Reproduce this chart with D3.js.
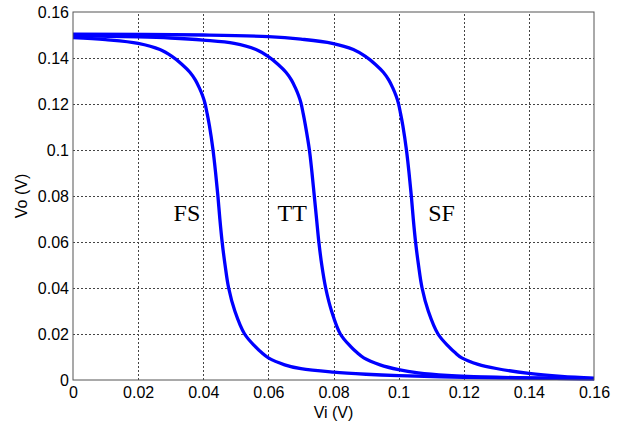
<!DOCTYPE html>
<html>
<head>
<meta charset="utf-8">
<script src="https://cdn.jsdelivr.net/npm/d3@7"></script>
<style>
  body { margin: 0; background: #fff; }
  .tick text { font-family: "Liberation Sans", Arial, sans-serif; font-size: 16px; fill: #000; }
  .grid line { stroke: #444; stroke-dasharray: 2,2; shape-rendering: crispEdges; }
  .grid path { display: none; }
</style>
</head>
<body>
<div id="chart"></div>
<script>
// Vi (V) vs Vo (V) for the three corners
var fsVi = [0, 0.01, 0.02, 0.0267, 0.0304, 0.0335, 0.0359, 0.0376, 0.0388, 0.0398, 0.0405, 0.0412, 0.0419, 0.0430, 0.0438, 0.0445, 0.0451, 0.0458, 0.0467, 0.0478, 0.0497, 0.0527, 0.056, 0.058, 0.06, 0.065, 0.07, 0.08, 0.09, 0.10, 0.12, 0.14, 0.16];
var fsVo = [0.1489, 0.1480, 0.1464, 0.1437, 0.1407, 0.1372, 0.1338, 0.1304, 0.1270, 0.1236, 0.1205, 0.1158, 0.1105, 0.100, 0.090, 0.080, 0.070, 0.060, 0.050, 0.040, 0.030, 0.020, 0.0145, 0.0118, 0.0096, 0.0066, 0.0049, 0.0034, 0.0025, 0.0019, 0.0012, 0.0008, 0.0005];

var ttVi = [0, 0.02, 0.03, 0.04, 0.0495, 0.0562, 0.0599, 0.0630, 0.0654, 0.0671, 0.0683, 0.0693, 0.0700, 0.0707, 0.0714, 0.0726, 0.0734, 0.0741, 0.0748, 0.0755, 0.0764, 0.0776, 0.0794, 0.0821, 0.0853, 0.0873, 0.0893, 0.0943, 0.10, 0.106, 0.115, 0.13, 0.16];
var ttVo = [0.1497, 0.1492, 0.1487, 0.1478, 0.1464, 0.1437, 0.1407, 0.1372, 0.1338, 0.1304, 0.1270, 0.1236, 0.1205, 0.1158, 0.1105, 0.100, 0.090, 0.080, 0.070, 0.060, 0.050, 0.040, 0.030, 0.020, 0.0145, 0.0118, 0.0096, 0.0066, 0.0045, 0.0031, 0.0020, 0.0012, 0.0006];

var sfVi = [0, 0.04, 0.06, 0.07, 0.0796, 0.0861, 0.0898, 0.0929, 0.0953, 0.0970, 0.0982, 0.0992, 0.0999, 0.1006, 0.1013, 0.1024, 0.1032, 0.1039, 0.1045, 0.1052, 0.1061, 0.1072, 0.1091, 0.1121, 0.1154, 0.1174, 0.1194, 0.1244, 0.13, 0.14, 0.15, 0.16];
var sfVo = [0.1504, 0.1500, 0.1493, 0.1482, 0.1464, 0.1437, 0.1407, 0.1372, 0.1338, 0.1304, 0.1270, 0.1236, 0.1205, 0.1158, 0.1105, 0.100, 0.090, 0.080, 0.070, 0.060, 0.050, 0.040, 0.030, 0.020, 0.0145, 0.0118, 0.0096, 0.0068, 0.0050, 0.0029, 0.0016, 0.0008];

var tickVals = [0, 0.02, 0.04, 0.06, 0.08, 0.1, 0.12, 0.14, 0.16];
var cornerLabels = ["FS", "TT", "SF"];
var labelVi = [0.0391, 0.0718, 0.1173];
var labelVo = [0.0693, 0.0693, 0.0693];

var margin = {left: 73, top: 12, right: 27, bottom: 43};
var W = 621, H = 423;
var width = W - margin.left - margin.right,
    height = H - margin.top - margin.bottom;

var svg = d3.select("#chart").append("svg")
    .attr("width", W)
    .attr("height", H)
  .append("g")
    .attr("transform", "translate(" + margin.left + "," + margin.top + ")");

var x = d3.scaleLinear().domain([0, 0.16]).range([0, width]);
var y = d3.scaleLinear().domain([0, 0.16]).range([height, 0]);

var fmt = d => String(+d.toFixed(2));

// grid
svg.append("g")
  .attr("class", "grid")
  .attr("transform", `translate(0,${height})`)
  .call(d3.axisBottom(x).tickValues(tickVals.slice(1, -1)).tickSize(-height).tickFormat(""));

svg.append("g")
  .attr("class", "grid")
  .call(d3.axisLeft(y).tickValues(tickVals.slice(1, -1)).tickSize(-width).tickFormat(""));

// curves
var line = d3.line()
    .x(d => x(d[0]))
    .y(d => y(d[1]))
    .curve(d3.curveCatmullRom.alpha(0.5));

[[fsVi, fsVo], [ttVi, ttVo], [sfVi, sfVo]].forEach(function(s) {
  svg.append("path")
    .datum(d3.zip(s[0], s[1]))
    .attr("fill", "none")
    .attr("stroke", "#0000ff")
    .attr("stroke-width", 3.3)
    .attr("stroke-linejoin", "round")
    .attr("d", line);
});

// box
svg.append("rect")
  .attr("x", 0).attr("y", 0)
  .attr("width", width).attr("height", height)
  .attr("fill", "none")
  .attr("stroke", "#555")
  .attr("stroke-width", 1);

// axes
var xAxis = svg.append("g")
  .attr("transform", `translate(0,${height})`)
  .call(d3.axisBottom(x).tickValues(tickVals).tickSize(0).tickPadding(7).tickFormat(fmt));
xAxis.select(".domain").remove();

var yAxis = svg.append("g")
  .call(d3.axisLeft(y).tickValues(tickVals).tickSize(0).tickPadding(4).tickFormat(fmt));
yAxis.select(".domain").remove();

// axis titles
svg.append("text")
  .attr("x", width / 2)
  .attr("y", height + 38)
  .attr("text-anchor", "middle")
  .style("font-family", "Liberation Sans, Arial, sans-serif")
  .style("font-size", "16px")
  .text("Vi (V)");

svg.append("text")
  .attr("transform", `translate(${-46},${height / 2}) rotate(-90)`)
  .attr("text-anchor", "middle")
  .style("font-family", "Liberation Sans, Arial, sans-serif")
  .style("font-size", "16px")
  .text("Vo (V)");

// corner labels
svg.selectAll(".corner")
  .data(cornerLabels).enter()
  .append("text")
    .attr("class", "corner")
    .attr("x", (d, i) => x(labelVi[i]))
    .attr("y", (d, i) => y(labelVo[i]))
    .attr("text-anchor", "end")
    .style("font-family", "Liberation Serif, Times New Roman, serif")
    .style("font-size", "24px")
    .text(d => d);
</script>
</body>
</html>
